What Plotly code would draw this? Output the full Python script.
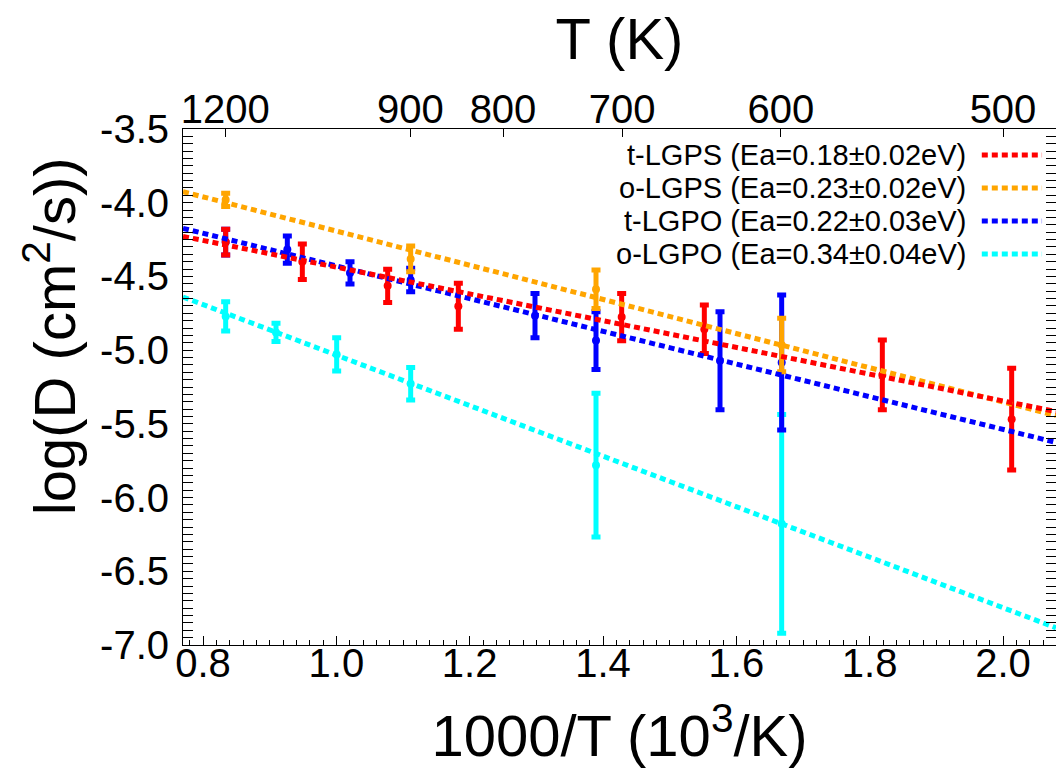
import plotly.graph_objects as go

# ---------------- data ----------------
kB_ln10_1000 = 8.617333e-5 * 2.302585 * 1000.0  # eV per unit of 1000/T

names = ["t-LGPS", "o-LGPS", "t-LGPO", "o-LGPO"]
Ea = [0.18, 0.23, 0.22, 0.34]
Ea_err = [0.02, 0.02, 0.03, 0.04]
intercepts = [-3.53, -3.033, -3.32, -3.32]
colors = ["#ff0000", "#ffa500", "#0000ff", "#00ffff"]

x_tlgps = [0.834, 0.949, 1.077, 1.183, 1.428, 1.552, 1.819, 2.013]
y_tlgps = [-4.267, -4.400, -4.564, -4.703, -4.776, -4.858, -5.168, -5.468]
e_tlgps = [0.087, 0.120, 0.112, 0.156, 0.160, 0.164, 0.237, 0.345]

x_olgps = [0.834, 1.1115, 1.3895, 1.668]
y_olgps = [-3.980, -4.381, -4.587, -4.965]
e_olgps = [0.045, 0.087, 0.130, 0.181]

x_tlgpo = [0.834, 0.9265, 1.0205, 1.1115, 1.298, 1.3895, 1.5755, 1.668]
y_tlgpo = [-4.267, -4.318, -4.476, -4.524, -4.766, -4.935, -5.072, -5.084]
e_tlgpo = [0.087, 0.093, 0.076, 0.080, 0.150, 0.196, 0.333, 0.458]

x_olgpo = [0.834, 0.9095, 1.0005, 1.1115, 1.3895, 1.668]
y_olgpo = [-4.771, -4.880, -5.029, -5.228, -5.780, -6.178]
e_olgpo = [0.099, 0.062, 0.113, 0.110, 0.487, 0.742]

xs = [x_tlgps, x_olgps, x_tlgpo, x_olgpo]
ys = [y_tlgps, y_olgps, y_tlgpo, y_olgpo]
es = [e_tlgps, e_olgps, e_tlgpo, e_olgpo]

x_ticks = [0.8, 1.0, 1.2, 1.4, 1.6, 1.8, 2.0]
x_ticktext = ["0.8", "1.0", "1.2", "1.4", "1.6", "1.8", "2.0"]
y_ticks = [-3.5, -4.0, -4.5, -5.0, -5.5, -6.0, -6.5, -7.0]
y_ticktext = ["-3.5", "-4.0", "-4.5", "-5.0", "-5.5", "-6.0", "-6.5", "-7.0"]
T_ticks = [1200, 900, 800, 700, 600, 500]

x_range = [0.77, 2.0795]
y_range = [-7.0, -3.5]

FONT = "Liberation Sans, Arial, Helvetica, sans-serif"

fig = go.Figure()

# error bars / points (drawn bottom to top: o-LGPO, t-LGPO, o-LGPS, t-LGPS)
for i in [3, 2, 1, 0]:
    fig.add_trace(go.Scatter(
        x=xs[i], y=ys[i], mode="markers",
        marker=dict(color=colors[i], size=8, symbol="circle"),
        error_y=dict(type="data", array=es[i], visible=True,
                     color=colors[i], thickness=5, width=4.5),
        showlegend=False, name=names[i],
    ))

# Arrhenius fit lines
for i in [3, 2, 1, 0]:
    slope = -Ea[i] / kB_ln10_1000
    lx = x_range
    ly = [intercepts[i] + slope * v for v in lx]
    fig.add_trace(go.Scatter(
        x=lx, y=ly, mode="lines",
        line=dict(color=colors[i], width=5, dash="6px,4px"),
        showlegend=False, name=names[i] + " fit",
    ))

# dummy trace for the top (temperature) axis
fig.add_trace(go.Scatter(x=[None], y=[None], xaxis="x2", showlegend=False,
                         hoverinfo="skip"))

# manual key: text right-aligned, sample to its right
key_y = [0.9496, 0.8857, 0.8217, 0.7578]
for i in range(4):
    fig.add_annotation(
        x=0.899, y=key_y[i], xref="paper", yref="paper",
        text=f"{names[i]} (Ea={Ea[i]:.2f}±{Ea_err[i]:.2f}eV)",
        showarrow=False, xanchor="right", yanchor="middle",
        font=dict(family=FONT, size=29, color="black"),
    )
    fig.add_shape(
        type="line", xref="paper", yref="paper",
        x0=0.915, x1=0.984, y0=key_y[i], y1=key_y[i],
        line=dict(color=colors[i], width=5, dash="6px,4px"),
    )

# y-axis title (placed off-centre as in the reference)
fig.add_annotation(
    x=-0.108, y=0.599, xref="paper", yref="paper",
    text="log(D (cm<sup>2</sup>/s))", textangle=-90,
    showarrow=False, xanchor="right", yanchor="middle",
    font=dict(family=FONT, size=58, color="black"),
)

fig.update_layout(
    width=1056, height=783,
    margin=dict(l=183, r=0, t=129, b=138),
    paper_bgcolor="white", plot_bgcolor="white",
    font=dict(family=FONT, size=40, color="black"),
    showlegend=False,
    xaxis=dict(
        range=x_range, tickmode="array", tickvals=x_ticks, ticktext=x_ticktext,
        ticks="inside", ticklen=9, tickwidth=1, tickcolor="black",
        minor=dict(tickmode="linear", tick0=0.8, dtick=0.02, ticks="inside",
                   ticklen=5, tickwidth=1, tickcolor="black"),
        showline=True, linecolor="black", linewidth=1, mirror=True,
        showgrid=False, zeroline=False,
        tickfont=dict(size=40), ticklabelstandoff=-17,
        title=dict(text="1000/T (10<sup>3</sup>/K)", font=dict(size=58),
                   standoff=31),
    ),
    xaxis2=dict(
        overlaying="x", side="top", range=x_range, anchor="y",
        tickmode="array", tickvals=[1000.0 / t for t in T_ticks],
        ticktext=[str(t) for t in T_ticks],
        ticks="inside", ticklen=8, tickwidth=1, tickcolor="black",
        showline=False, showgrid=False, zeroline=False,
        tickfont=dict(size=40), ticklabelstandoff=-3,
        title=dict(text="T (K)", font=dict(size=58), standoff=8),
    ),
    yaxis=dict(
        range=y_range, tickmode="array", tickvals=y_ticks, ticktext=y_ticktext,
        ticks="inside", ticklen=10, tickwidth=1, tickcolor="black",
        minor=dict(tickmode="linear", tick0=-7.0, dtick=0.05, ticks="inside",
                   ticklen=5, tickwidth=1, tickcolor="black"),
        showline=True, linecolor="black", linewidth=1, mirror="allticks",
        showgrid=False, zeroline=False,
        tickfont=dict(size=40), ticklabelstandoff=5,
    ),
)

fig.write_html(
    "out.html",
    config={"displayModeBar": False},
    post_script="document.body.style.margin='0';document.body.style.overflow='hidden';",
)
